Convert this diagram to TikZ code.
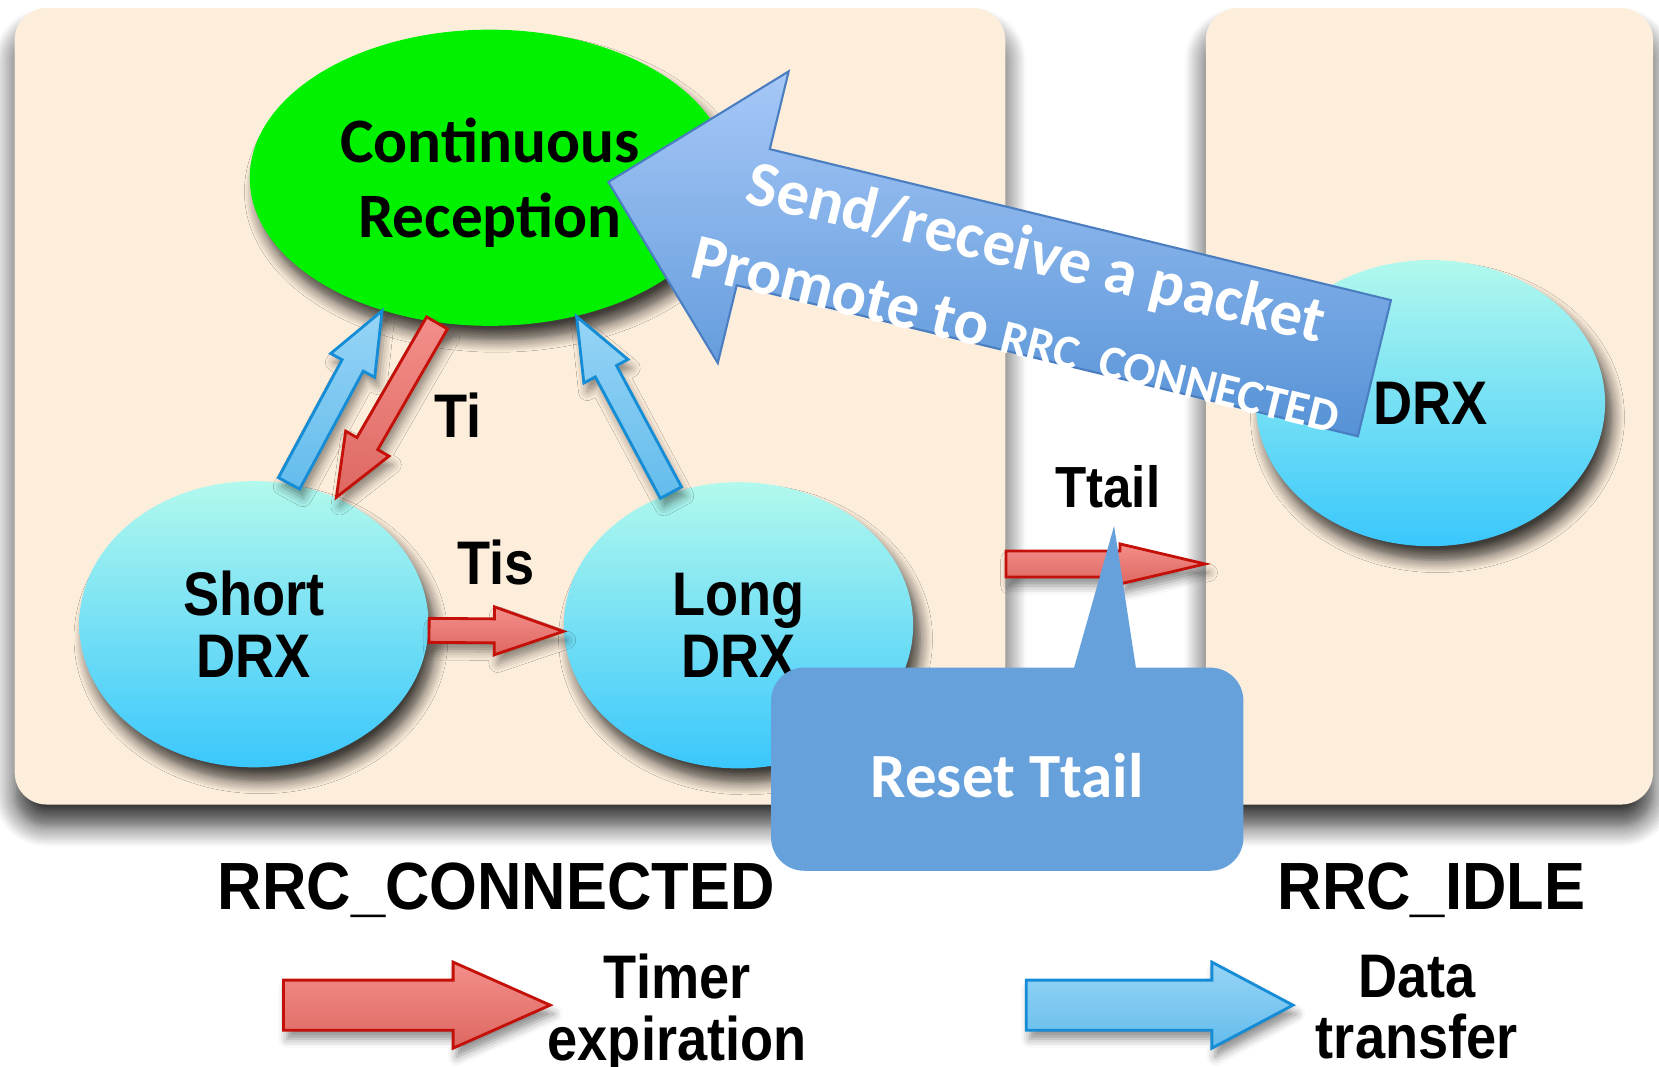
\documentclass[tikz,border=0pt]{standalone}
\usepackage{fontspec}
\setmainfont{Liberation Sans}
\newfontfamily\lblfont{Liberation Sans}[FakeStretch=0.88]
\newfontfamily\namefont{Liberation Sans}[FakeStretch=0.92]
\newfontfamily\calfont{Carlito}
\usetikzlibrary{shapes.geometric,calc,shadows.blur}

\definecolor{panelbg}{RGB}{253,238,220}
\definecolor{contgreen}{RGB}{0,242,0}
\definecolor{drxtop}{RGB}{178,249,237}
\definecolor{drxbot}{RGB}{58,199,252}
\definecolor{redtop}{RGB}{243,142,138}
\definecolor{redbot}{RGB}{222,104,98}
\definecolor{redline}{RGB}{196,16,8}
\definecolor{bluetop}{RGB}{150,212,246}
\definecolor{bluebot}{RGB}{100,188,236}
\definecolor{blueline}{RGB}{20,140,214}
\definecolor{bigtop}{RGB}{166,200,247}
\definecolor{bigbot}{RGB}{86,146,214}
\definecolor{bigline}{RGB}{74,126,192}
\definecolor{calloutblue}{RGB}{102,161,220}

\tikzstyle{panel} = [rectangle, fill=panelbg, rounded corners=0.32cm,
blur shadow={shadow xshift=0pt, shadow yshift=-6pt, shadow blur radius=6pt,
shadow blur steps=10, shadow opacity=80}]
\tikzstyle{bubble} = [ellipse, inner sep=0pt, align=center, text depth=0pt,
minimum width=3.49cm, minimum height=2.86cm,
font=\lblfont\bfseries\fontsize{17.5}{17.4}\selectfont,
blur shadow={shadow xshift=2pt, shadow yshift=-4pt, shadow blur radius=3.5pt,
shadow blur steps=8, shadow opacity=75}]
\tikzstyle{state} = [bubble, top color=drxtop, bottom color=drxbot]
\tikzstyle{cont} = [bubble, fill=contgreen, minimum width=4.80cm,
minimum height=2.96cm, font=\calfont\bfseries\fontsize{18}{21.3}\selectfont]
\tikzstyle{lbl} = [inner sep=0pt, font=\lblfont\bfseries\fontsize{17.5}{17.4}\selectfont]
\tikzstyle{statelbl} = [inner sep=0pt, font=\namefont\bfseries\fontsize{19}{19}\selectfont]
\tikzstyle{timer} = [draw=redline, line width=0.8pt, top color=redtop,
bottom color=redbot, blur shadow={shadow xshift=1pt, shadow yshift=-2.5pt,
shadow blur radius=2.5pt, shadow opacity=45}]
\tikzstyle{transfer} = [draw=blueline, line width=0.8pt, top color=bluetop,
bottom color=bluebot, blur shadow={shadow xshift=1pt, shadow yshift=-2.5pt,
shadow blur radius=2.5pt, shadow opacity=45}]
\tikzstyle{promote} = [draw=bigline, line width=0.6pt, top color=bigtop,
bottom color=bigbot]
\tikzstyle{callout} = [rectangle, fill=calloutblue, rounded corners=0.33cm,
minimum width=4.72cm, minimum height=2.03cm, text=white, text height=16pt,
text depth=0pt, font=\calfont\bfseries\fontsize{17.9}{20}\selectfont]

% fat block arrow: [style] {tail} {tip} {shaft half width} {head half width} {head length}
\newcommand{\fatarrow}[6][]{%
  \path [#1] ($(#2)!#4!-90:(#3)$)
    -- ($(#3)!#6!(#2)!#4!90:(#2)$)
    -- ($(#3)!#6!(#2)!#5!90:(#2)$)
    -- (#3)
    -- ($(#3)!#6!(#2)!#5!-90:(#2)$)
    -- ($(#3)!#6!(#2)!#4!-90:(#2)$)
    -- ($(#2)!#4!90:(#3)$)
    -- cycle;}

\begin{document}
\begin{tikzpicture}[x=0.01058cm, y=-0.01058cm]
\useasboundingbox (0,0) rectangle (1568,1008);

% Place panels
\node [panel, minimum width=9.90cm, minimum height=7.96cm] (connected) at (482,384) {};
\node [panel, minimum width=4.47cm, minimum height=7.96cm] (idle) at (1351,384) {};

% Place states
\node [cont] (cont) at (463,168) {Continuous\\Reception};
\node [state] (short) at (240,590) {Short\\DRX};
\node [state] (long) at (698,591) {Long\\DRX};
\node [state] (idledrx) at (1352,381) {DRX};

% Draw transitions
\fatarrow[transfer]{short.76}{cont.231}{0.12cm}{0.25cm}{0.62cm}
\fatarrow[timer]{cont.250}{short.57}{0.12cm}{0.25cm}{0.62cm}
\fatarrow[transfer]{long.117}{cont.302}{0.12cm}{0.25cm}{0.62cm}
\fatarrow[timer]{short.-2}{long.182}{0.12cm}{0.24cm}{0.69cm}
\coordinate (tt-a) at (connected.east |- 0,533);
\coordinate (tt-b) at (idle.west |- tt-a);
\fatarrow[timer]{tt-a}{tt-b}{0.13cm}{0.20cm}{0.85cm}

\node [lbl] (ti) at (433,392) {Ti};
\node [lbl] (tis) at (469,532) {Tis};
\node [lbl, font=\lblfont\bfseries\fontsize{16.5}{16.5}\selectfont] (ttail) at (1047,460) {Ttail};

% Promotion arrow
\coordinate (send-a) at (1299,348);
\coordinate (send-b) at (575,172);
\fatarrow[promote]{send-a}{send-b}{0.70cm}{1.50cm}{1.49cm}
\node [rotate=-13.7, align=center, text=white, inner sep=0pt,
  font=\calfont\bfseries\fontsize{18.4}{24}\selectfont] (sendtxt) at (970,278)
  {Send/receive a packet\\Promote to {\fontsize{13.6}{16}\selectfont
   RRC\rule[-0.1em]{0.46em}{0.08em}CONNECTED}};

% Ttail reset
\node [callout] (reset) at (952,727) {Reset Ttail};
\coordinate (ptr) at (1053,497);
\fill [calloutblue] ([xshift=0.66cm, yshift=-1pt]reset.north) -- (ptr)
  -- ([xshift=1.29cm, yshift=-1pt]reset.north) -- cycle;

% State names
\node [statelbl, anchor=base] (connlbl) at (469,860) {RRC\_CONNECTED};
\node [statelbl, anchor=base] (idlelbl) at (1353,860) {RRC\_IDLE};

% Legend
\coordinate (tm-a) at (268,950);
\coordinate (tm-b) at (520,950);
\coordinate (dt-a) at (970,950);
\coordinate (dt-b) at (1222,950);
\fatarrow[timer]{tm-a}{tm-b}{0.25cm}{0.43cm}{0.97cm}
\fatarrow[transfer]{dt-a}{dt-b}{0.25cm}{0.43cm}{0.81cm}
\node [lbl, align=center] (timerlbl) at (640,958) {Timer\\expiration};
\node [lbl, align=center] (datalbl) at (1339,952) {Data\\transfer};
\end{tikzpicture}
\end{document}
